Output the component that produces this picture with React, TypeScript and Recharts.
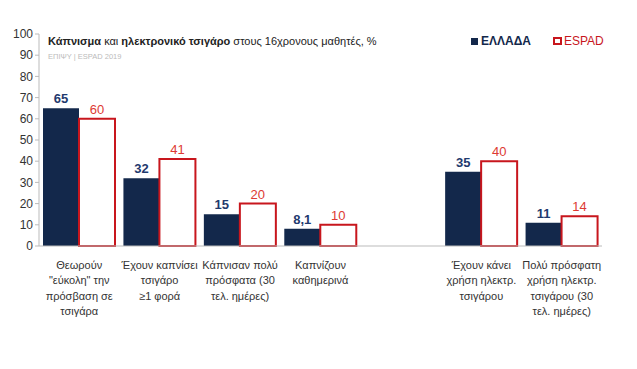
import React from 'react';
import { BarChart, Bar, XAxis, YAxis, LabelList } from 'recharts';

const categories = ['c1', 'c2', 'c3', 'c4', 'c5', 'c6', 'c7'];
const tickLabels = [
  ['Θεωρούν', '"εύκολη" την', 'πρόσβαση σε', 'τσιγάρα'],
  ['Έχουν καπνίσει', 'τσιγάρο', '≥1 φορά'],
  ['Κάπνισαν  πολύ', 'πρόσφατα (30', 'τελ. ημέρες)'],
  ['Καπνίζουν', 'καθημερινά'],
  [],
  ['Έχουν κάνει', 'χρήση ηλεκτρ.', 'τσιγάρου'],
  ['Πολύ πρόσφατη', 'χρήση ηλεκτρ.', 'τσιγάρου (30', 'τελ. ημέρες)'],
];
const greece = [65, 32, 15, 8.1, null, 35, 11];
const espad = [60, 41, 20, 10, null, 40, 14];
const yTicks = [0, 10, 20, 30, 40, 50, 60, 70, 80, 90, 100];
const boundaryTicks = [0, 1, 2, 3, 4, 5, 6, 7];

const NAVY = '#13284b';
const RED = '#c8161d';
const FONT = '"Liberation Sans", Arial, sans-serif';

const data = categories.map((c, i) => ({
  name: c,
  idx: i + 0.5,
  greece: greece[i],
  espad: espad[i],
}));

const fmt = (v: any) => (v == null ? '' : String(v).replace('.', ','));

const CatTick = (props: any) => {
  const { x, y, payload } = props;
  const lines = tickLabels[categories.indexOf(payload.value)] || [];
  return (
    <text x={x} y={y} textAnchor="middle" fontSize={11} fill="#333" fontFamily={FONT}>
      {lines.map((l, i) => (
        <tspan key={i} x={x} dy={i === 0 ? 15 : 15.3}>
          {l}
        </tspan>
      ))}
    </text>
  );
};

export default function App() {
  return (
    <div style={{ position: 'absolute', left: 0, top: 0, width: 637, height: 369, background: '#fff' }}>
      <div
        style={{
          position: 'absolute',
          left: 48,
          top: 35,
          fontFamily: FONT,
          fontSize: 11,
          color: '#222',
          whiteSpace: 'nowrap',
          zIndex: 2,
        }}
      >
        <b>Κάπνισμα</b> και <b>ηλεκτρονικό τσιγάρο</b> στους 16χρονους μαθητές, %
      </div>
      <div
        style={{
          position: 'absolute',
          left: 48,
          top: 52,
          fontFamily: FONT,
          fontSize: 7.5,
          color: '#bbb',
          zIndex: 2,
        }}
      >
        ΕΠΙΨΥ | ESPAD 2019
      </div>
      <div
        style={{
          position: 'absolute',
          left: 471,
          top: 34,
          display: 'flex',
          alignItems: 'center',
          fontFamily: FONT,
          fontSize: 12,
          zIndex: 2,
        }}
      >
        <span style={{ width: 7, height: 7, background: NAVY, display: 'inline-block', marginRight: 3 }} />
        <span style={{ color: NAVY, fontWeight: 'bold', marginRight: 22 }}>ΕΛΛΑΔΑ</span>
        <span
          style={{
            width: 5,
            height: 4,
            border: `2px solid ${RED}`,
            display: 'inline-block',
            marginRight: 2,
          }}
        />
        <span style={{ color: RED }}>ESPAD</span>
      </div>
      <BarChart
        width={637}
        height={369}
        data={data}
        margin={{ top: 34, right: 35, bottom: 3, left: 0 }}
        barGap={0}
      >
        <XAxis
          xAxisId="grid"
          type="number"
          dataKey="idx"
          domain={[0, 7]}
          ticks={boundaryTicks}
          allowDataOverflow
          tick={false}
          axisLine={false}
          tickLine={{ stroke: '#bbb' }}
          tickSize={5}
          height={0}
        />
        <XAxis
          xAxisId="cat"
          dataKey="name"
          interval={0}
          tick={<CatTick />}
          tickLine={false}
          axisLine={{ stroke: '#bbb' }}
          height={120}
        />
        <YAxis
          domain={[0, 100]}
          ticks={yTicks}
          width={39}
          tickSize={4}
          tickLine={{ stroke: '#bbb' }}
          axisLine={{ stroke: '#bbb' }}
          tick={{ fontSize: 12, fill: '#333', fontFamily: FONT }}
        />
        <Bar xAxisId="cat" dataKey="greece" fill={NAVY} barSize={36} isAnimationActive={false}>
          <LabelList
            dataKey="greece"
            position="top"
            formatter={fmt}
            style={{ fontSize: 13, fontWeight: 'bold', fill: '#1f3a6e', fontFamily: FONT }}
          />
        </Bar>
        <Bar
          xAxisId="cat"
          dataKey="espad"
          fill="#fff"
          stroke={RED}
          strokeWidth={2}
          barSize={36}
          isAnimationActive={false}
        >
          <LabelList
            dataKey="espad"
            position="top"
            formatter={fmt}
            style={{ fontSize: 13, fill: '#dd3a33', fontFamily: FONT }}
          />
        </Bar>
      </BarChart>
    </div>
  );
}
